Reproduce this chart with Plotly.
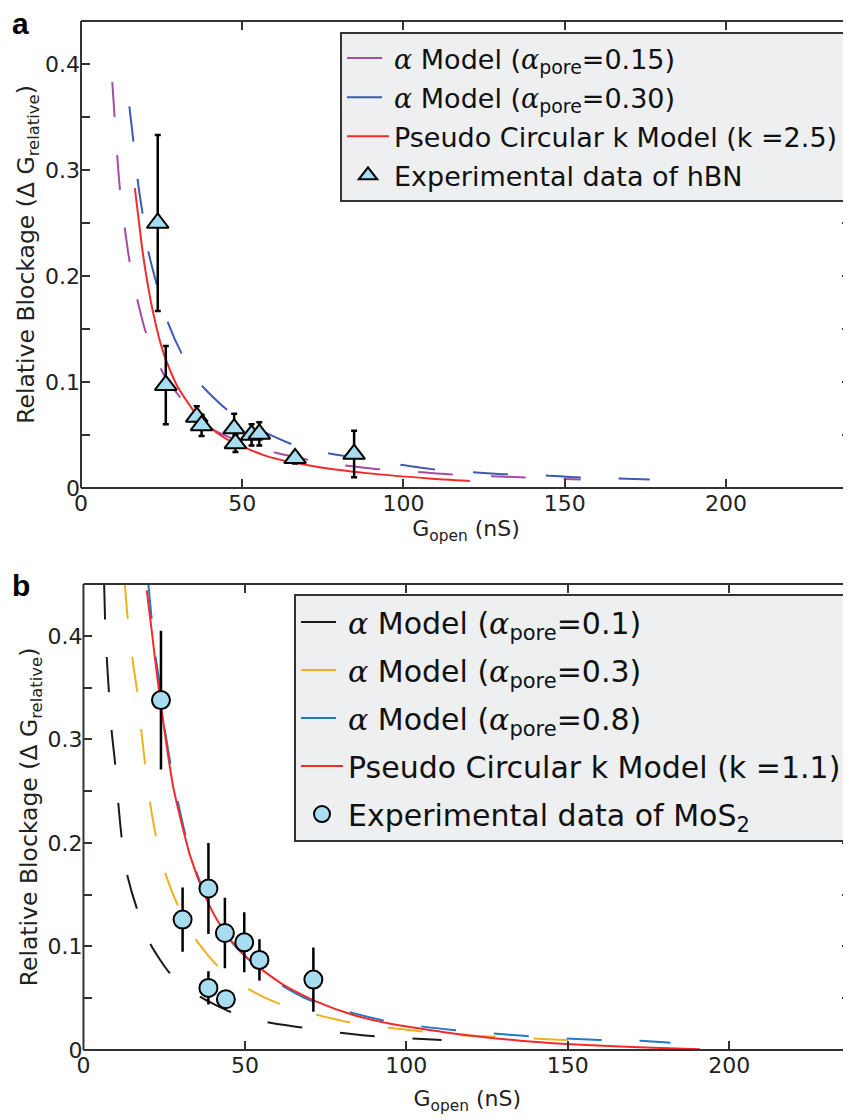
import plotly.graph_objects as go

# ---- panel a : hBN ----
a_alpha015_x = [9.7, 12.1, 15.0, 17.3, 20.1, 25.5, 33.0, 41.0, 50.0, 60.7, 75.0, 91.2, 107.0, 114.0, 136.0, 155.0]
a_alpha015_y = [0.383, 0.281, 0.215, 0.180, 0.147, 0.108, 0.077, 0.055, 0.043, 0.033, 0.024, 0.018, 0.0145, 0.013, 0.010, 0.008]

a_alpha030_x = [15.0, 16.7, 17.8, 19.3, 20.9, 23.5, 27.1, 31.2, 37.4, 45.2, 53.4, 64.8, 76.2, 84.4, 98.9, 108.0,
                120.6, 130.9, 143.3, 153.7, 166.0, 176.4]
a_alpha030_y = [0.360, 0.315, 0.285, 0.255, 0.223, 0.192, 0.155, 0.127, 0.097, 0.074, 0.058, 0.042, 0.033, 0.029,
                0.022, 0.018, 0.015, 0.013, 0.012, 0.010, 0.009, 0.008]

a_kmodel_x = [16.7, 18.8, 20.1, 22.4, 25.5, 29.7, 37.2, 45.2, 57.6, 73.1, 88.6, 108.0, 120.6]
a_kmodel_y = [0.283, 0.230, 0.203, 0.165, 0.128, 0.097, 0.064, 0.046, 0.030, 0.020, 0.014, 0.009, 0.0066]

hbn_x = [23.8, 26.3, 35.9, 37.4, 47.5, 47.9, 52.9, 55.3, 66.4, 84.7]
hbn_y = [0.250, 0.097, 0.067, 0.059, 0.056, 0.042, 0.050, 0.051, 0.028, 0.032]
hbn_err = [0.083, 0.037, 0.010, 0.010, 0.014, 0.008, 0.010, 0.011, 0.005, 0.022]

# ---- panel b : MoS2 ----
b_alpha01_x = [6.4, 6.7, 7.2, 7.9, 8.7, 9.8, 10.8, 11.8, 13.4, 16.5, 20.6, 26.8, 36.1, 45.4, 56.7, 67.0, 78.4,
               89.2, 101.1, 110.9]
b_alpha01_y = [0.450, 0.415, 0.380, 0.345, 0.309, 0.277, 0.238, 0.206, 0.171, 0.137, 0.103, 0.074, 0.0515, 0.037,
               0.027, 0.022, 0.017, 0.0135, 0.0113, 0.0097]

b_alpha03_x = [12.8, 13.7, 15.2, 16.7, 18.0, 20.1, 22.1, 25.2, 28.9, 34.5, 41.3, 50.5, 60.3, 71.7, 82.0, 95.9,
               116.1, 126.9, 138.3, 149.1, 161.5]
b_alpha03_y = [0.450, 0.417, 0.377, 0.345, 0.306, 0.250, 0.212, 0.172, 0.142, 0.108, 0.082, 0.060, 0.045, 0.0345,
               0.027, 0.021, 0.0145, 0.013, 0.0113, 0.0097, 0.0087]

b_alpha08_x = [20.1, 21.1, 22.1, 23.7, 24.7, 26.8, 28.9, 31.4, 34.5, 38.7, 46.0, 52.0, 60.9, 70.2, 82.0, 92.3,
               104.2, 114.5, 126.4, 137.3, 148.6, 160.0, 171.3, 181.8]
b_alpha08_y = [0.450, 0.417, 0.385, 0.351, 0.320, 0.279, 0.245, 0.210, 0.176, 0.143, 0.104, 0.085, 0.0635, 0.048,
               0.037, 0.029, 0.023, 0.0193, 0.016, 0.0135, 0.0113, 0.0097, 0.009, 0.007]

b_kmodel_x = [19.6, 21.1, 22.7, 24.2, 25.8, 27.8, 30.4, 33.0, 37.1, 41.3, 46.4, 52.6, 61.9, 72.2, 83.6, 95.9,
              107.3, 114.5, 135.2, 155.8, 176.5, 190.9]
b_kmodel_y = [0.444, 0.406, 0.364, 0.3285, 0.293, 0.254, 0.219, 0.188, 0.153, 0.126, 0.103, 0.084, 0.063, 0.0467,
              0.0338, 0.0248, 0.0193, 0.016, 0.009, 0.0048, 0.0022, 0.0007]

mos2_x = [24.0, 30.7, 38.7, 38.7, 43.8, 44.1, 49.8, 54.5, 71.2]
mos2_y = [0.338, 0.126, 0.156, 0.060, 0.113, 0.049, 0.104, 0.087, 0.068]
mos2_err = [0.067, 0.031, 0.044, 0.016, 0.034, 0.006, 0.029, 0.020, 0.031]

FONT = "DejaVu Sans"
AXC = "#333333"
FILL = "#a8dcf0"
DASH = "35px,38px"
A = '<span style="font-family:DejaVu Serif"><i>α</i></span>'


def model_line(x, y, name, color, dash, xa, ya, legend):
    return go.Scatter(x=x, y=y, mode="lines", name=name, xaxis=xa, yaxis=ya, legend=legend, legendgroup=name,
                      line=dict(color=color, width=2, dash=dash, shape="spline", smoothing=0.6))


fig = go.Figure()

fig.add_trace(model_line(a_alpha015_x, a_alpha015_y, A + " Model (" + A + "<sub>pore</sub>=0.15)",
                         "#a64ca6", DASH, "x", "y", "legend"))
fig.add_trace(model_line(a_alpha030_x, a_alpha030_y, A + " Model (" + A + "<sub>pore</sub>=0.30)",
                         "#3c5ab4", DASH, "x", "y", "legend"))
fig.add_trace(model_line(a_kmodel_x, a_kmodel_y, "Pseudo Circular k Model (k =2.5)",
                         "#f42a2a", "solid", "x", "y", "legend"))
fig.add_trace(go.Scatter(
    x=hbn_x, y=hbn_y, mode="markers", name="Experimental data of hBN", xaxis="x", yaxis="y", legend="legend",
    legendgroup="hbn",
    marker=dict(symbol="triangle-up", size=19, color=FILL, line=dict(color="black", width=2)),
    error_y=dict(type="data", array=hbn_err, color="black", thickness=2.5, width=3)))

fig.add_trace(model_line(b_alpha01_x, b_alpha01_y, A + " Model (" + A + "<sub>pore</sub>=0.1)",
                         "#1a1a1a", DASH, "x2", "y2", "legend2"))
fig.add_trace(model_line(b_alpha03_x, b_alpha03_y, A + " Model (" + A + "<sub>pore</sub>=0.3)",
                         "#f0b01e", DASH, "x2", "y2", "legend2"))
fig.add_trace(model_line(b_alpha08_x, b_alpha08_y, A + " Model (" + A + "<sub>pore</sub>=0.8)",
                         "#1f78c8", DASH, "x2", "y2", "legend2"))
fig.add_trace(model_line(b_kmodel_x, b_kmodel_y, "Pseudo Circular k Model (k =1.1)",
                         "#f42a2a", "solid", "x2", "y2", "legend2"))
fig.add_trace(go.Scatter(
    x=mos2_x, y=mos2_y, mode="markers", name="Experimental data of MoS<sub>2</sub>", xaxis="x2", yaxis="y2",
    legend="legend2", legendgroup="mos2",
    marker=dict(symbol="circle", size=18, color=FILL, line=dict(color="black", width=2)),
    error_y=dict(type="data", array=mos2_err, color="black", thickness=2.5, width=0)))

xcommon = dict(showgrid=False, zeroline=False, showline=False, mirror="ticks", ticks="inside", ticklen=9,
               tickwidth=2, tickcolor=AXC, tickvals=[0, 50, 100, 150, 200], automargin=False,
               tickfont=dict(family=FONT, size=22, color="#222"))
ycommon = dict(showgrid=False, zeroline=False, showline=False, mirror="ticks", ticks="inside", ticklen=9,
               tickwidth=2, tickcolor=AXC, dtick=0.1, tick0=0, automargin=False,
               minor=dict(dtick=0.05, ticks="inside", ticklen=9, tickwidth=2, tickcolor=AXC),
               tickfont=dict(family=FONT, size=22, color="#222"),
               title=dict(text="Relative Blockage (Δ G<sub>relative</sub>)",
                          font=dict(family=FONT, size=23.5, color="#222"), standoff=3))
xtitle = "G<sub>open</sub> (nS)"
xtfont = dict(family=FONT, size=22, color="#222")

# legends anchored on their right edge so they never push the right margin
legend_common = dict(bgcolor="#eeeff1", bordercolor=AXC, borderwidth=2, xanchor="right", yanchor="top",
                     itemwidth=42)

# page body adds an 8px offset, so the figure is 8px smaller than the window
fig.update_layout(
    width=843, height=1112,
    margin=dict(l=73, r=0, t=13, b=70),
    paper_bgcolor="white", plot_bgcolor="white",
    font=dict(family=FONT, color="#111"),
    showlegend=True,
    xaxis=dict(xcommon, domain=[0, 1], range=[0, 238.8], anchor="y",
               title=dict(text=xtitle, font=xtfont, standoff=2)),
    yaxis=dict(ycommon, domain=[0.5462, 1], range=[0, 0.4406], anchor="x"),
    xaxis2=dict(xcommon, domain=[0.0032, 1], range=[0, 237.7], anchor="y2",
                title=dict(text=xtitle, font=xtfont, standoff=13)),
    yaxis2=dict(ycommon, domain=[0, 0.4529], range=[0, 0.4502], anchor="x2"),
    legend=dict(legend_common, x=0.9922, y=0.9893, tracegroupgap=1,
                font=dict(family=FONT, size=27, color="#111")),
    legend2=dict(legend_common, x=0.9961, y=0.4431, tracegroupgap=6,
                 font=dict(family=FONT, size=30, color="#111")),
    annotations=[
        dict(text="<b>a</b>", xref="paper", yref="paper", x=-0.092, y=1.016, xanchor="left", yanchor="top",
             showarrow=False, font=dict(family="Liberation Sans", size=30, color="black")),
        dict(text="<b>b</b>", xref="paper", yref="paper", x=-0.092, y=0.469, xanchor="left", yanchor="top",
             showarrow=False, font=dict(family="Liberation Sans", size=30, color="black")),
    ],
)

# spines: left, bottom, top (right spine falls just outside the picture)
for xr, yr in [("x domain", "y domain"), ("x2 domain", "y2 domain")]:
    for x0, y0, x1, y1 in [(0, 0, 0, 1), (0, 0, 1, 0), (0, 1, 1, 1)]:
        fig.add_shape(type="line", xref=xr, yref=yr, x0=x0, y0=y0, x1=x1, y1=y1,
                      line=dict(color=AXC, width=2))

fig.write_html("out.html")
